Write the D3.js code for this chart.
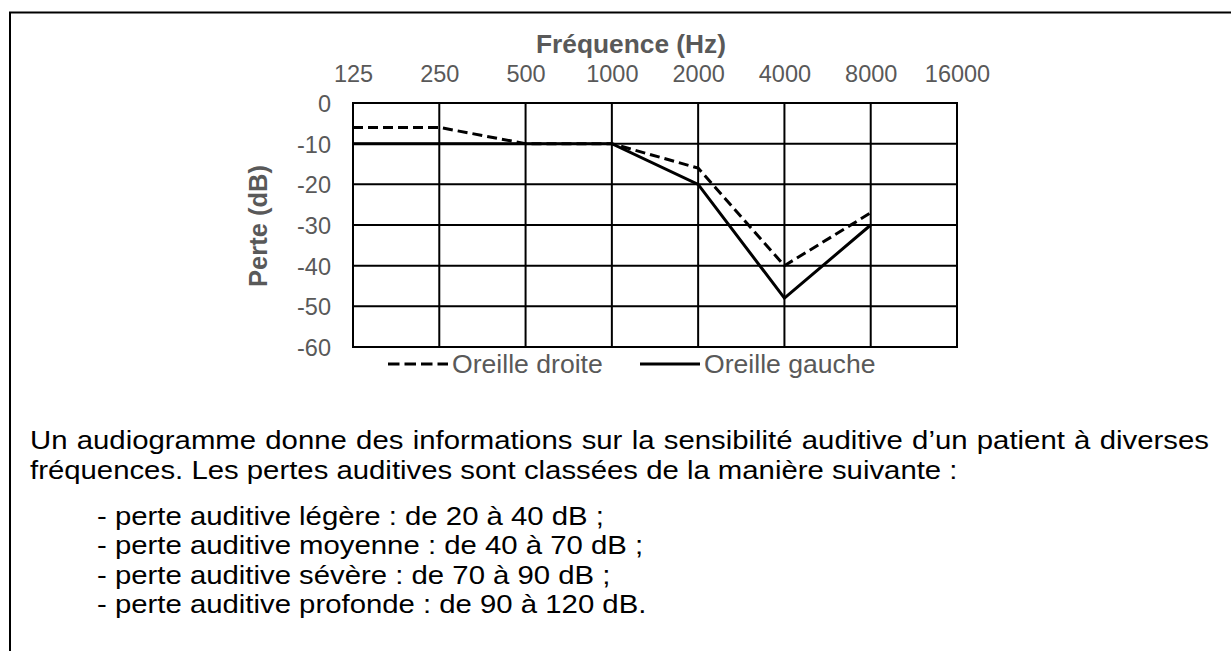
<!DOCTYPE html>
<html>
<head>
    <script type="text/javascript" src="https://d3js.org/d3.v7.min.js"></script>
    <style>
        body { margin: 0; background: #fff; }
        svg { display: block; }
    </style>
</head>
<body>
    <svg width="1231" height="651"></svg>

    <script>
        // audiogram data
        const frequencies = [125, 250, 500, 1000, 2000, 4000, 8000];
        const tickFreqs = [125, 250, 500, 1000, 2000, 4000, 8000, 16000];
        const droite = [-6, -6, -10, -10, -16, -40, -27];
        const gauche = [-10, -10, -10, -10, -20, -48, -30];
        const yTicks = [0, -10, -20, -30, -40, -50, -60];
        const seriesNames = ["Oreille droite", "Oreille gauche"];

        const paragraph = [
            "Un audiogramme donne des informations sur la sensibilité auditive d\u2019un patient à diverses",
            "fréquences. Les pertes auditives sont classées de la manière suivante :"
        ];
        const bullets = [
            "- perte auditive légère : de 20 à 40 dB ;",
            "- perte auditive moyenne : de 40 à 70 dB ;",
            "- perte auditive sévère : de 70 à 90 dB ;",
            "- perte auditive profonde : de 90 à 120 dB."
        ];

        const svg = d3.select("svg");
        const font = "'Liberation Sans', Arial, sans-serif";
        const grey = "#595959";

        // outer frame (top and left edges only visible)
        svg.append("path")
            .attr("d", "M10,651 L10,12.5 L1231,12.5")
            .attr("fill", "none")
            .attr("stroke", "#000")
            .attr("stroke-width", 2);

        const plot = { left: 353, right: 957, top: 103, bottom: 347 };

        const x = d3.scaleLog().base(2)
            .domain([125, 16000])
            .range([plot.left, plot.right]);
        const y = d3.scaleLinear()
            .domain([0, -60])
            .range([plot.top, plot.bottom]);

        // grid
        const g = svg.append("g");
        g.selectAll(".vgrid")
            .data(tickFreqs)
            .enter().append("line")
            .attr("x1", d => x(d)).attr("x2", d => x(d))
            .attr("y1", plot.top - 1).attr("y2", plot.bottom + 1)
            .attr("stroke", "#000").attr("stroke-width", 2);
        g.selectAll(".hgrid")
            .data(yTicks)
            .enter().append("line")
            .attr("x1", plot.left - 1).attr("x2", plot.right + 1)
            .attr("y1", d => y(d)).attr("y2", d => y(d))
            .attr("stroke", "#000").attr("stroke-width", 2);

        // top axis labels
        const xAxis = d3.axisTop(x)
            .tickValues(tickFreqs)
            .tickFormat(d => String(d))
            .tickSize(0)
            .tickPadding(0);
        const xg = svg.append("g")
            .attr("transform", `translate(0,${plot.top - 21})`)
            .call(xAxis);
        xg.select(".domain").remove();
        xg.selectAll("text")
            .attr("fill", grey)
            .style("font-family", font)
            .style("font-size", "23.5px");

        // left axis labels (plain hyphen like the original)
        const yAxis = d3.axisLeft(y)
            .tickValues(yTicks)
            .tickFormat(d => String(d))
            .tickSize(0)
            .tickPadding(0);
        const yg = svg.append("g")
            .attr("transform", `translate(${plot.left - 22},0)`)
            .call(yAxis);
        yg.select(".domain").remove();
        yg.selectAll("text")
            .attr("fill", grey)
            .attr("dy", "0.36em")
            .style("font-family", font)
            .style("font-size", "23.5px");

        // axis titles
        svg.append("text")
            .attr("x", 631).attr("y", 53)
            .attr("text-anchor", "middle")
            .attr("fill", grey)
            .style("font-family", font)
            .style("font-weight", "bold")
            .style("font-size", "26.3px")
            .text("Fréquence (Hz)");
        svg.append("text")
            .attr("transform", "translate(267,226) rotate(-90)")
            .attr("text-anchor", "middle")
            .attr("fill", grey)
            .style("font-family", font)
            .style("font-weight", "bold")
            .style("font-size", "25.5px")
            .text("Perte (dB)");

        // data lines
        const line = d3.line()
            .x((d, i) => x(frequencies[i]))
            .y(d => y(d));
        svg.append("path")
            .datum(droite)
            .attr("d", line)
            .attr("fill", "none")
            .attr("stroke", "#000")
            .attr("stroke-width", 3)
            .attr("stroke-dasharray", "10,5");
        svg.append("path")
            .datum(gauche)
            .attr("d", line)
            .attr("fill", "none")
            .attr("stroke", "#000")
            .attr("stroke-width", 3);

        // legend
        const legend = svg.append("g").attr("transform", "translate(0,364)");
        const legX = [388, 640];
        legend.selectAll("line")
            .data(seriesNames)
            .enter().append("line")
            .attr("x1", (d, i) => legX[i]).attr("x2", (d, i) => legX[i] + 60)
            .attr("y1", 0).attr("y2", 0)
            .attr("stroke", "#000")
            .attr("stroke-width", 3)
            .attr("stroke-dasharray", (d, i) => i === 0 ? "11.5,5" : null);
        legend.selectAll("text")
            .data(seriesNames)
            .enter().append("text")
            .attr("x", (d, i) => legX[i] + 64)
            .attr("y", 9)
            .attr("fill", grey)
            .style("font-family", font)
            .style("font-size", "26.6px")
            .text(d => d);

        // explanatory text, slightly stretched horizontally like the source
        const sx = 1.12;
        const txt = svg.append("g")
            .attr("transform", `scale(${sx},1)`)
            .style("font-family", font)
            .style("font-size", "26.2px")
            .attr("fill", "#000");
        txt.selectAll(".para")
            .data(paragraph)
            .enter().append("text")
            .attr("x", 30 / sx)
            .attr("y", (d, i) => 449 + i * 30)
            .style("word-spacing", (d, i) => i === 0 ? "1px" : null)
            .text(d => d);
        txt.selectAll(".bullet")
            .data(bullets)
            .enter().append("text")
            .attr("x", 97 / sx)
            .attr("y", (d, i) => 525 + i * 29.3)
            .text(d => d);
    </script>
</body>
</html>
